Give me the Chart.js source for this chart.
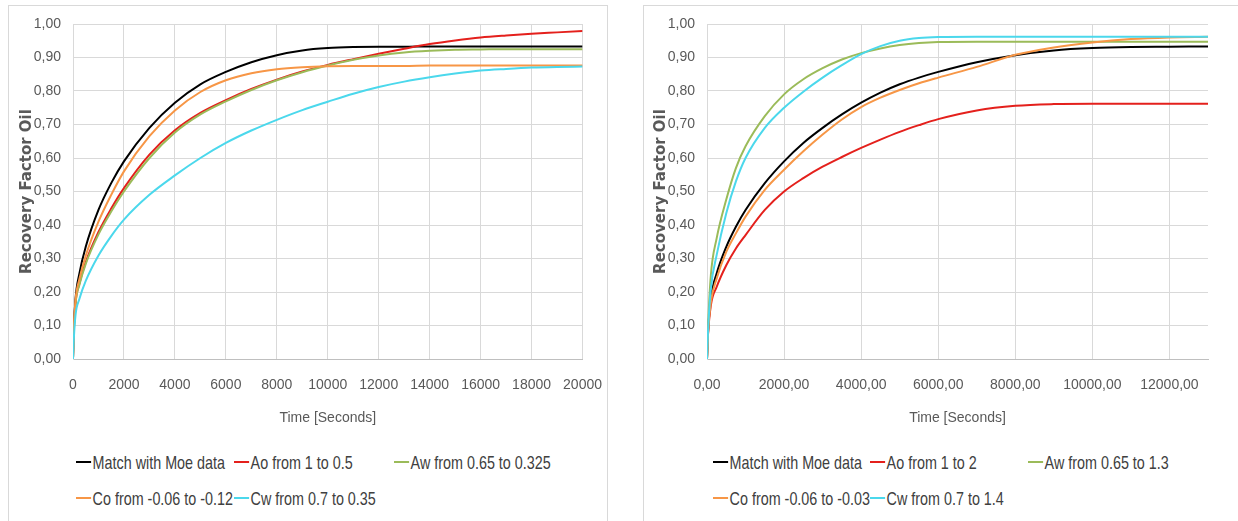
<!DOCTYPE html>
<html>
<head>
<meta charset="utf-8">
<script src="https://cdn.jsdelivr.net/npm/chart.js@4.4.1/dist/chart.umd.min.js"></script>
<style>
  html, body { margin: 0; padding: 0; background: #fff; overflow: hidden; width: 1238px; height: 521px; }
  .panel { position: absolute; top: 5px; height: 540px; border: 1px solid #d9d9d9; box-sizing: border-box; }
  canvas { position: absolute; top: 0; }
  .legend-item { position: absolute; font-family: 'Liberation Sans', Arial, sans-serif; font-size: 19px;
                 color: #404040; line-height: 22px; white-space: nowrap;
                 transform: scaleX(0.755); transform-origin: left center; }
  .legend-item i { display: inline-block; width: 20px; height: 2px; vertical-align: middle; margin: 0 2px 3px 0; }
</style>
</head>
<body>
<div class="panel" style="left:8px;width:600px"></div>
<div class="panel" style="left:643px;width:700px"></div>
<canvas id="chartLeft" width="620" height="440" style="left:0"></canvas>
<canvas id="chartRight" width="604" height="440" style="left:634px"></canvas>
<div id="legendLeft"></div>
<div id="legendRight"></div>
<script>
// time axis (seconds) for each plot
const timeLeft = [0, 25, 100, 250, 500, 1000, 1500, 2000, 3000, 4000, 5000, 6000, 7000, 8000, 9000,
                  10000, 11000, 12000, 13000, 14000, 15000, 16000, 17000, 18000, 19000, 20000];
const timeRight = [0, 25, 100, 250, 500, 750, 1000, 1500, 2000, 2500, 3000, 3500, 4000, 4500, 5000,
                   5500, 6000, 7000, 8000, 9000, 10000, 11000, 12000, 13000];

// tick labels shown on each time axis
const ticksLeft = [0, 2000, 4000, 6000, 8000, 10000, 12000, 14000, 16000, 18000, 20000];
const ticksRight = [0, 2000, 4000, 6000, 8000, 10000, 12000];

// left chart: halving the parameters
const labelsLeft = ['Match with Moe data', 'Ao from 1 to 0.5', 'Aw from 0.65 to 0.325',
                    'Co from -0.06 to -0.12', 'Cw from 0.7 to 0.35'];
const moeLeft = [0, 0.075, 0.18, 0.255, 0.335, 0.445, 0.525, 0.59, 0.69, 0.765, 0.82, 0.857, 0.886, 0.907, 0.921,
                 0.928, 0.931, 0.932, 0.932, 0.933, 0.933, 0.933, 0.933, 0.933, 0.933, 0.933];
const aoLeft = [0, 0.07, 0.168, 0.225, 0.289, 0.379, 0.449, 0.51, 0.61, 0.683, 0.735, 0.773, 0.806, 0.834, 0.858,
                0.878, 0.895, 0.911, 0.926, 0.94, 0.951, 0.96, 0.966, 0.971, 0.975, 0.979];
const awLeft = [0, 0.065, 0.165, 0.221, 0.284, 0.372, 0.44, 0.50, 0.60, 0.676, 0.73, 0.769, 0.803, 0.832, 0.856,
                0.876, 0.893, 0.906, 0.915, 0.92, 0.923, 0.924, 0.925, 0.925, 0.925, 0.925];
const coLeft = [0, 0.075, 0.176, 0.238, 0.308, 0.41, 0.49, 0.56, 0.665, 0.742, 0.797, 0.832, 0.853, 0.865, 0.871,
                0.874, 0.875, 0.875, 0.875, 0.876, 0.876, 0.876, 0.876, 0.876, 0.876, 0.876];
const cwLeft = [0, 0.05, 0.132, 0.179, 0.233, 0.309, 0.367, 0.416, 0.49, 0.548, 0.60, 0.645, 0.682, 0.714, 0.743,
                0.768, 0.792, 0.812, 0.828, 0.841, 0.852, 0.861, 0.866, 0.870, 0.872, 0.873];

// right chart: doubling the parameters
const labelsRight = ['Match with Moe data', 'Ao from 1 to 2', 'Aw from 0.65 to 1.3',
                     'Co from -0.06 to -0.03', 'Cw from 0.7 to 1.4'];
const moeRight = [0, 0.075, 0.18, 0.255, 0.335, 0.395, 0.445, 0.525, 0.59, 0.645, 0.69, 0.73, 0.765, 0.795, 0.82,
                  0.84, 0.857, 0.886, 0.907, 0.921, 0.928, 0.931, 0.932, 0.933];
const aoRight = [0, 0.07, 0.16, 0.215, 0.28, 0.33, 0.37, 0.445, 0.50, 0.54, 0.574, 0.603, 0.63, 0.655, 0.678,
                 0.698, 0.716, 0.742, 0.756, 0.761, 0.762, 0.762, 0.762, 0.762];
const awRight = [0, 0.09, 0.25, 0.36, 0.476, 0.57, 0.635, 0.725, 0.79, 0.835, 0.868, 0.894, 0.913, 0.927, 0.937,
                 0.943, 0.946, 0.947, 0.947, 0.947, 0.947, 0.947, 0.947, 0.947];
const coRight = [0, 0.075, 0.17, 0.24, 0.32, 0.375, 0.425, 0.505, 0.565, 0.62, 0.67, 0.715, 0.752, 0.78, 0.803,
                 0.823, 0.84, 0.872, 0.908, 0.93, 0.945, 0.955, 0.96, 0.962];
const cwRight = [0, 0.08, 0.21, 0.31, 0.435, 0.53, 0.60, 0.69, 0.75, 0.798, 0.84, 0.877, 0.91, 0.934, 0.95,
                 0.958, 0.961, 0.962, 0.962, 0.962, 0.962, 0.962, 0.962, 0.962];

const colors = ['#000000', '#e4201c', '#9bbb59', '#f79646', '#4bd8ec'];

const textFamily = "'Liberation Sans', Arial, sans-serif";
const tickColor = '#595959';

function commaFix(v, digits) {
    return Number(v).toFixed(digits).replace('.', ',');
}

function buildDatasets(time, series, labels) {
    return series.map(function(values, i) {
        return {
            label: labels[i],
            data: values.map(function(v, j) { return { x: time[j], y: v }; }),
            borderColor: colors[i],
            backgroundColor: colors[i],
            borderWidth: 2,
            pointRadius: 0,
            showLine: true,
            cubicInterpolationMode: 'monotone',
            order: series.length - i   // later series drawn on top, like Excel
        };
    });
}

function makeChart(id, time, series, labels, tickValues, xMax, xDigits, padRight) {
    const ctx = document.getElementById(id).getContext('2d');
    return new Chart(ctx, {
        type: 'scatter',
        data: { datasets: buildDatasets(time, series, labels) },
        options: {
            responsive: false,
            animation: false,
            layout: { padding: { top: 24, right: padRight, left: 0, bottom: 0 } },
            plugins: { legend: { display: false }, tooltip: { enabled: false } },
            scales: {
                x: {
                    type: 'linear',
                    min: 0,
                    max: xMax,
                    afterBuildTicks: function(scale) {
                        scale.ticks = tickValues.map(function(v) { return { value: v }; });
                    },
                    afterFit: function(scale) { scale.height = 81; },
                    grid: { color: '#d9d9d9', drawTicks: false },
                    border: { color: '#bfbfbf' },
                    ticks: {
                        padding: 18,
                        maxRotation: 0,
                        autoSkip: false,
                        color: tickColor,
                        font: { family: textFamily, size: 14 },
                        callback: function(v) { return xDigits ? commaFix(v, xDigits) : String(v); }
                    },
                    title: {
                        display: true,
                        text: 'Time [Seconds]',
                        color: tickColor,
                        font: { family: textFamily, size: 14 },
                        padding: { top: 0, bottom: 13 }
                    }
                },
                y: {
                    min: 0,
                    max: 1,
                    afterFit: function(scale) { scale.width = 73; },
                    grid: { color: '#d9d9d9', drawTicks: false },
                    border: { color: '#d9d9d9' },
                    ticks: {
                        stepSize: 0.1,
                        padding: 12,
                        color: tickColor,
                        font: { family: textFamily, size: 14 },
                        callback: function(v) { return commaFix(v, 2); }
                    },
                    title: {
                        display: true,
                        text: 'Recovery Factor Oil',
                        color: tickColor,
                        font: { family: "'DejaVu Sans', sans-serif", size: 15, weight: 'bold' },
                        padding: { top: 18, bottom: 0 }
                    }
                }
            }
        }
    });
}

makeChart('chartLeft', timeLeft, [moeLeft, aoLeft, awLeft, coLeft, cwLeft], labelsLeft, ticksLeft, 20000, 0, 28);
makeChart('chartRight', timeRight, [moeRight, aoRight, awRight, coRight, cwRight], labelsRight, ticksRight, 13000, 2, 30);

// Excel-style legend laid out in columns under each plot
function buildLegend(id, labels, cols, rows) {
    const box = document.getElementById(id);
    labels.forEach(function(text, i) {
        const item = document.createElement('div');
        item.className = 'legend-item';
        item.style.left = cols[i % 3] + 'px';
        item.style.top = rows[Math.floor(i / 3)] + 'px';
        const mark = document.createElement('i');
        mark.style.background = colors[i];
        item.appendChild(mark);
        item.appendChild(document.createTextNode(text));
        box.appendChild(item);
    });
}
buildLegend('legendLeft', labelsLeft, [76, 234, 394], [452, 488]);
buildLegend('legendRight', labelsRight, [713, 870, 1028], [452, 488]);
</script>
</body>
</html>
